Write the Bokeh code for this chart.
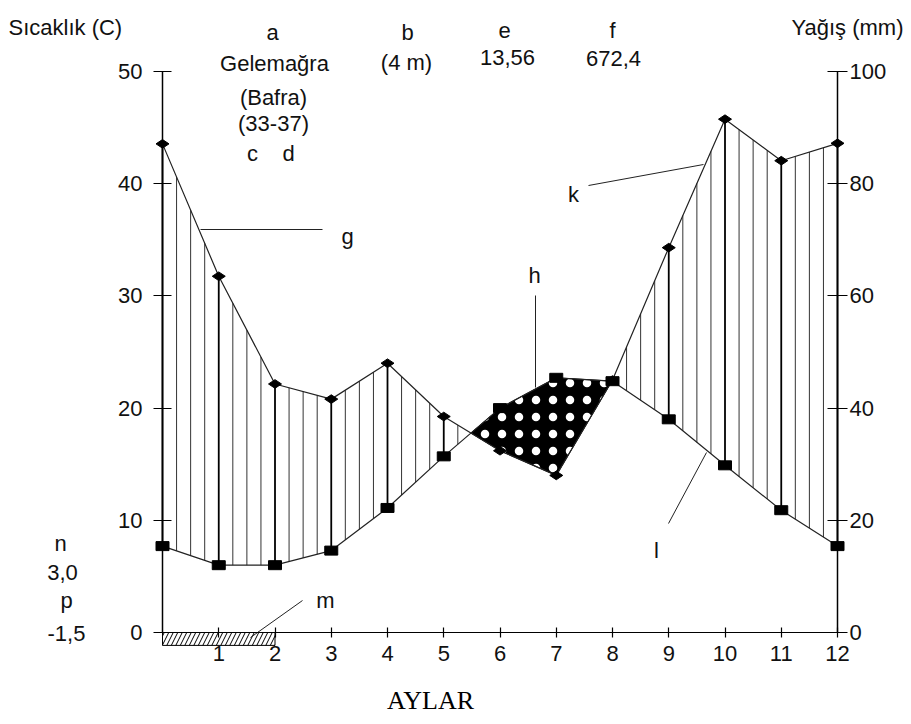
import numpy as np
from bokeh.plotting import figure
from bokeh.models import Range1d, LinearAxis, FixedTicker, Label
from bokeh.embed import file_html
from bokeh.resources import INLINE

# ---- data ----
months = [0, 1, 2, 3, 4, 5, 6, 7, 8, 9, 10, 11, 12]
temperature = [7.7, 6.0, 6.0, 7.3, 11.1, 15.7, 20.0, 22.7, 22.4, 19.0, 14.9, 10.9, 7.7]
precipitation = [87.1, 63.5, 44.3, 41.6, 48.0, 38.5, 32.4, 28.0, 45.0, 68.6, 91.5, 84.1, 87.2]
month_ticks = [1, 2, 3, 4, 5, 6, 7, 8, 9, 10, 11, 12]
temp_ticks = [0, 10, 20, 30, 40, 50]
rain_ticks = [0, 20, 40, 60, 80, 100]
frost_span = [0, 2]
frost_depth = [0, -1.15]

FONT = "Liberation Sans"
FS = "22px"

# geometry (pixels): month 0..12 spans x 162..837, temperature 0..50 spans y 632..71
W, H = 911, 724
PX0, PX12 = 162.0, 837.0
PY0, PY50 = 632.0, 71.0
sx = (PX12 - PX0) / 12.0
sy = (PY0 - PY50) / 50.0


def dx(px):
    return (px - PX0) / sx


def dy(py):
    return (PY0 - py) / sy


p = figure(width=W, height=H, x_range=Range1d(dx(0), dx(W)), y_range=Range1d(dy(H), dy(0)),
           output_backend="svg", toolbar_location=None,
           x_axis_location=None, y_axis_location=None,
           min_border=0, min_border_left=0, min_border_right=0, min_border_top=0, min_border_bottom=0)
p.outline_line_color = None
p.grid.visible = False
p.xgrid.visible = False
p.ygrid.visible = False
p.background_fill_color = "white"
p.border_fill_color = "white"
p.extra_y_ranges = {"rain": Range1d(2 * dy(H), 2 * dy(0))}


def style_axis(ax, tin, tout, standoff):
    ax.axis_line_width = 1.5
    ax.axis_line_color = "black"
    ax.major_tick_line_color = "black"
    ax.major_tick_line_width = 1.2
    ax.major_tick_in = tin
    ax.major_tick_out = tout
    ax.minor_tick_line_color = None
    ax.major_label_text_font = FONT
    ax.major_label_text_font_size = FS
    ax.major_label_text_color = "#111111"
    ax.major_label_standoff = standoff


left = LinearAxis(ticker=FixedTicker(ticks=temp_ticks), bounds=(0, 50), fixed_location=0)
style_axis(left, 9, 9, 11)
p.add_layout(left, "left")

right = LinearAxis(y_range_name="rain", ticker=FixedTicker(ticks=rain_ticks), bounds=(0, 100),
                   fixed_location=12)
style_axis(right, 10, 10, 2)
p.add_layout(right, "right")

bottom = LinearAxis(ticker=FixedTicker(ticks=month_ticks), bounds=(0, 12), fixed_location=0)
style_axis(bottom, 5, 5, 8)
bottom.axis_line_width = 1.2
p.add_layout(bottom, "below")

# ---- humid period: vertical hatching between curves ----
rain_half = np.array(precipitation) / 2.0
temp_arr = np.array(temperature)
xs_h = np.arange(0, 12.0001, 0.25)
t_h = np.interp(xs_h, months, temp_arr)
r_h = np.interp(xs_h, months, rain_half)
mask = r_h > t_h + 0.05
is_int = np.isclose(xs_h, np.round(xs_h))
m1 = mask & ~is_int
m2 = mask & is_int
p.segment(xs_h[m1], t_h[m1], xs_h[m1], r_h[m1], line_color="#333333", line_width=1)
p.segment(xs_h[m2], t_h[m2], xs_h[m2], r_h[m2], line_color="black", line_width=1.8)

# ---- dry period polygon (temperature above precipitation/2) ----
d = rain_half - temp_arr
crossings = []
for i in range(len(months) - 1):
    if (d[i] > 0) != (d[i + 1] > 0):
        f = d[i] / (d[i] - d[i + 1])
        xc = months[i] + f
        yc = temp_arr[i] + f * (temp_arr[i + 1] - temp_arr[i])
        crossings.append((xc, yc))
if len(crossings) >= 2:
    (xa, ya), (xb, yb) = crossings[0], crossings[1]
    inner = [m for m in months if xa < m < xb]
    px_ = [xa] + inner + [xb] + inner[::-1]
    py_ = [ya] + [temperature[m] for m in inner] + [yb] + [rain_half[m] for m in inner[::-1]]
    p.patch(px_, py_, fill_color="black", line_color="black", line_width=1,
            hatch_pattern="dot", hatch_color="white", hatch_scale=17, hatch_weight=1)

# ---- frost bar ----
p.quad(left=[frost_span[0]], right=[frost_span[1]], bottom=[frost_depth[1]], top=[frost_depth[0]],
       fill_color="white", line_color="black", line_width=1,
       hatch_pattern="/", hatch_color="black", hatch_scale=9, hatch_weight=1)

# ---- curves and markers ----
p.line(months, temperature, line_color="#222222", line_width=1.2)
p.line(months, precipitation, y_range_name="rain", line_color="#222222", line_width=1.2)
p.rect(months, temperature, width=13, height=9, width_units="screen", height_units="screen",
       fill_color="black", line_color="black")
p.scatter(months, precipitation, y_range_name="rain", marker="diamond", size=13, angle=np.pi / 2,
          fill_color="black", line_color="black")

# ---- leader lines (pixel positions of the annotation pointers) ----
leaders = [
    ((200, 229), (322, 229)),   # g
    ((588, 185), (703, 164)),   # k
    ((535, 295), (535, 387)),   # h
    ((668, 523), (706, 452)),   # l
    ((302, 600), (250, 637)),   # m
]
for (ax_, ay_), (bx_, by_) in leaders:
    p.line([dx(ax_), dx(bx_)], [dy(ay_), dy(by_)], line_color="#222222", line_width=1)

# ---- text labels ----
texts = [
    ("Sıcaklık (C)", 8, 27, "left"),
    ("a", 272, 32, "center"),
    ("Gelemağra", 274, 63, "center"),
    ("(Bafra)", 273, 97, "center"),
    ("(33-37)", 273, 123, "center"),
    ("c", 252, 153, "center"),
    ("d", 288, 153, "center"),
    ("b", 407, 32, "center"),
    ("(4 m)", 406, 62, "center"),
    ("e", 504, 30, "center"),
    ("13,56", 507, 57, "center"),
    ("f", 612, 30, "center"),
    ("672,4", 613, 58, "center"),
    ("Yağış (mm)", 903, 27, "right"),
    ("n", 60, 543, "center"),
    ("3,0", 62, 572, "center"),
    ("p", 66, 600, "center"),
    ("-1,5", 66, 633, "center"),
    ("g", 347, 236, "center"),
    ("k", 573, 194, "center"),
    ("h", 534, 275, "center"),
    ("l", 656, 550, "center"),
    ("m", 325, 600, "center"),
]
for t, x, y, al in texts:
    p.add_layout(Label(x=dx(x), y=dy(y), text=t, text_font=FONT, text_font_size=FS,
                       text_color="#111111", text_align=al, text_baseline="alphabetic"))

p.add_layout(Label(x=dx(430), y=dy(700), text="AYLAR", text_font="Liberation Serif",
                   text_font_size="26px", text_color="black", text_align="center",
                   text_baseline="middle"))

open("out.html", "w").write(file_html(p, INLINE))
